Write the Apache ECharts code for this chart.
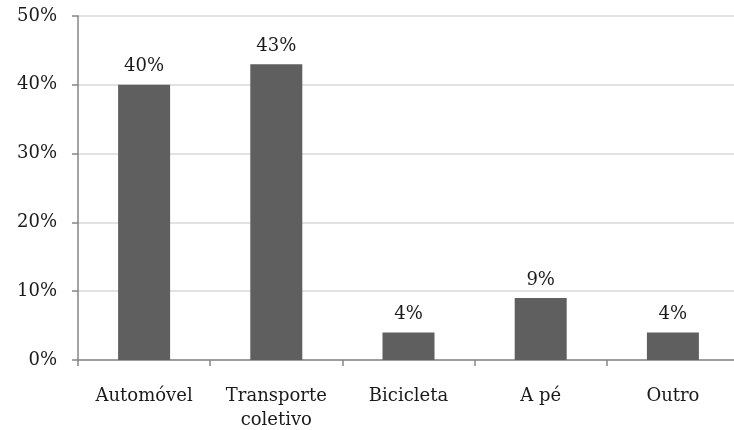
<!DOCTYPE html>
<html>
<head>
<meta charset="utf-8">
<script src="https://cdn.jsdelivr.net/npm/echarts@6/dist/echarts.min.js"></script>
<style>
  html, body { margin: 0; padding: 0; background: #fff; }
  #chart { width: 734px; height: 430px; }
</style>
</head>
<body>
<div id="chart"></div>
<script>
// Meio de transporte utilizado (percentual)
const categories = ['Automóvel', 'Transporte\ncoletivo', 'Bicicleta', 'A pé', 'Outro'];
const values = [40, 43, 4, 9, 4];
const yTicks = [0, 10, 20, 30, 40, 50];

const font = 'DejaVu Serif';
const chart = echarts.init(document.getElementById('chart'), null, { renderer: 'canvas' });

chart.setOption({
  animation: false,
  grid: { left: 78, right: -5, top: 16, bottom: 70, containLabel: false, outerBoundsMode: 'none' },
  xAxis: {
    type: 'category',
    data: categories,
    axisLine: { lineStyle: { color: '#868686', width: 1.5 } },
    axisTick: { show: true, length: 6, alignWithLabel: false, lineStyle: { color: '#868686', width: 1.5 } },
    axisLabel: { color: '#1a1a1a', fontFamily: font, fontSize: 18, margin: 24, lineHeight: 24, interval: 0 }
  },
  yAxis: {
    type: 'value',
    min: yTicks[0],
    max: yTicks[yTicks.length - 1],
    interval: 10,
    axisLine: { show: true, lineStyle: { color: '#868686', width: 1.5 } },
    axisTick: { show: true, length: 6, lineStyle: { color: '#868686', width: 1.5 } },
    splitLine: { show: true, lineStyle: { color: '#d9d9d9', width: 1.5 } },
    axisLabel: { color: '#1a1a1a', fontFamily: font, fontSize: 18, margin: 21, formatter: v => v + '%' }
  },
  series: [{
    type: 'bar',
    data: values,
    barWidth: 52,
    itemStyle: { color: '#5f5f5f' },
    label: {
      show: true,
      position: 'top',
      distance: 9,
      color: '#1a1a1a',
      fontFamily: font,
      fontSize: 18,
      formatter: p => p.value + '%'
    }
  }]
});
</script>
</body>
</html>
